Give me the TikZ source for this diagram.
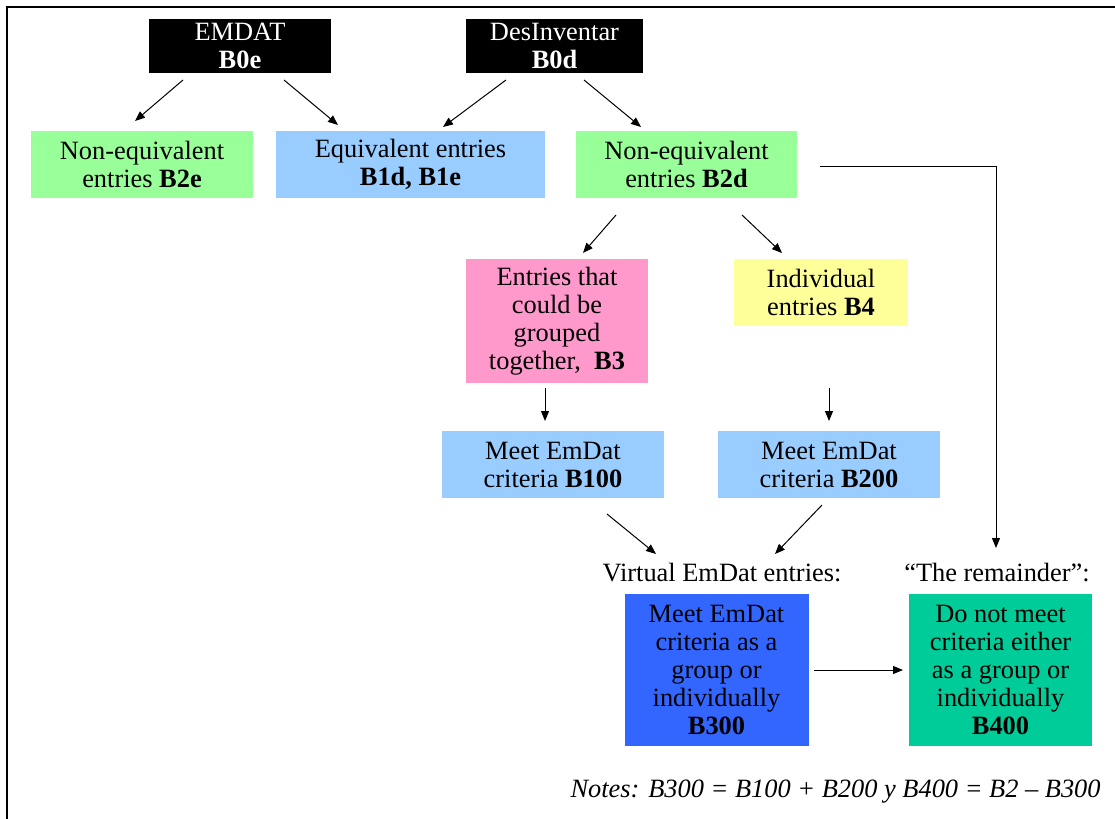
\documentclass[tikz,border=0pt]{standalone}
\usepackage{fontspec}
\setmainfont{Liberation Serif}
\usetikzlibrary{arrows.meta}
\definecolor{lgreen}{HTML}{99FF99}
\definecolor{lblue}{HTML}{99CCFF}
\definecolor{lpink}{HTML}{FF99CC}
\definecolor{lyellow}{HTML}{FFFF99}
\definecolor{dblue}{HTML}{3366FF}
\definecolor{tgreen}{HTML}{00CC99}
\begin{document}
\begin{tikzpicture}[x=0.5pt,y=-0.5pt,
  txt/.style={font=\fontsize{13.2}{14}\selectfont, align=center, inner sep=0pt},
  bx/.style={txt, rectangle, draw=none},
  conn/.style={line width=0.5pt, -{Triangle[length=5pt,width=4pt]}},
  frameline/.style={line width=1.4pt}]
\useasboundingbox (0,0) rectangle (1115,819);
\draw[frameline] (7,819) -- (7,7) -- (1115,7);

% top sources
\node[bx, fill=black, text=white, minimum width=91pt, minimum height=27pt] (emdat) at (240,46) {EMDAT\\\textbf{B0e}};
\node[bx, fill=black, text=white, minimum width=88.5pt, minimum height=27pt] (desinv) at (554.5,46) {DesInventar\\\textbf{B0d}};

% second row
\node[bx, fill=lgreen, minimum width=111pt, minimum height=33.5pt] (b2e) at (142,164.5) {Non-equivalent\\entries \textbf{B2e}};
\node[bx, fill=lblue, minimum width=134.5pt, minimum height=33.5pt] (b1d) at (410.5,164.5) {Equivalent entries\\\textbf{B1d, B1e}};
\node[bx, fill=lgreen, minimum width=110.5pt, minimum height=33.5pt] (b2d) at (686.5,164.5) {Non-equivalent\\entries \textbf{B2d}};

% third row
\node[bx, fill=lpink, minimum width=91pt, minimum height=62pt] (b3) at (557,321) {Entries that\\could be\\grouped\\together,\ \ \textbf{B3}};
\node[bx, fill=lyellow, minimum width=87pt, minimum height=33.5pt] (b4) at (821,292.5) {Individual\\entries \textbf{B4}};

% fourth row
\node[bx, fill=lblue, minimum width=111pt, minimum height=33.5pt] (b100) at (553,464.5) {Meet EmDat\\criteria \textbf{B100}};
\node[bx, fill=lblue, minimum width=111pt, minimum height=33.5pt] (b200) at (829,464.5) {Meet EmDat\\criteria \textbf{B200}};

% labels
\node[txt] (virt) at (722,573) {Virtual EmDat entries:};
\node[txt] (rem) at (997,573) {``The remainder'':};

% bottom boxes
\node[bx, fill=dblue, minimum width=92pt, minimum height=76pt] (b300) at (716.5,670) {Meet EmDat\\criteria as a\\group or\\individually\\\textbf{B300}};
\node[bx, fill=tgreen, minimum width=91.5pt, minimum height=76pt] (b400) at (1000.5,670) {Do not meet\\criteria either\\as a group or\\individually\\\textbf{B400}};

\node[txt, anchor=east, font=\fontsize{13.2}{14}\selectfont\itshape] (notes) at (1101,792) {Notes: B300 = B100 + B200 y B400 = B2 – B300};

% connector end points
\coordinate (a1s) at (183,80);  \coordinate (a1e) at (135,121);
\coordinate (a2s) at (284,80);  \coordinate (a2e) at (338,125);
\coordinate (a3s) at (506,80);  \coordinate (a3e) at (443,127);
\coordinate (a4s) at (584,80);  \coordinate (a4e) at (641,127);
\coordinate (a5s) at (616,215); \coordinate (a5e) at (583,253);
\coordinate (a6s) at (742,215); \coordinate (a6e) at (782,253);
\coordinate (a7s) at (545,388); \coordinate (a7e) at (545,421);
\coordinate (a8s) at (829,388); \coordinate (a8e) at (829,421);
\coordinate (a9s) at (607,514); \coordinate (a9e) at (656,554);
\coordinate (a10s) at (822,505); \coordinate (a10e) at (775,554);
\coordinate (a11s) at (820,166); \coordinate (a11m) at (996,166); \coordinate (a11e) at (996,548);
\coordinate (a12s) at (814,670); \coordinate (a12e) at (903,670);

\draw[conn] (a1s) -- (a1e);
\draw[conn] (a2s) -- (a2e);
\draw[conn] (a3s) -- (a3e);
\draw[conn] (a4s) -- (a4e);
\draw[conn] (a5s) -- (a5e);
\draw[conn] (a6s) -- (a6e);
\draw[conn] (a7s) -- (a7e);
\draw[conn] (a8s) -- (a8e);
\draw[conn] (a9s) -- (a9e);
\draw[conn] (a10s) -- (a10e);
\draw[conn] (a11s) -- (a11m) -- (a11e);
\draw[conn] (a12s) -- (a12e);
\end{tikzpicture}
\end{document}
